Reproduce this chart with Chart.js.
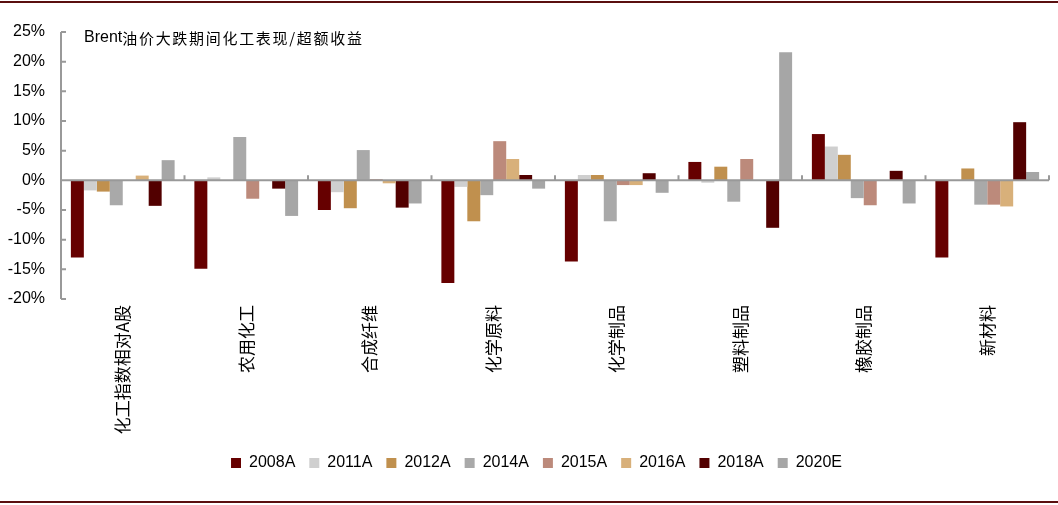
<!DOCTYPE html>
<html>
<head>
<meta charset="utf-8">
<script src="https://cdn.jsdelivr.net/npm/chart.js@4/dist/chart.umd.min.js"></script>
<style>
	body { margin: 0; background: #fff; }
	#wrap { position: relative; width: 1058px; height: 505px; }
	#wrap .rule { position: absolute; left: 0; width: 1058px; height: 2px; background: #5a0f0f; }
	canvas { position: absolute; left: 0; top: 0; }
</style>
</head>
<body>
<div id="wrap">
	<canvas id="chart" width="1058" height="505"></canvas>
	<div class="rule" style="top:1px"></div>
	<div class="rule" style="top:501px"></div>
</div>
<script>
// Brent油价大跌期间 化工各子行业超额收益 (%)
var categories = ["化工指数相对A股", "农用化工", "合成纤维", "化学原料", "化学制品", "塑料制品", "橡胶制品", "新材料"];
var seriesNames = ["2008A", "2011A", "2012A", "2014A", "2015A", "2016A", "2018A", "2020E"];
var seriesColors = ["#660000", "#cfcfcf", "#c0904e", "#a9a9a9", "#bc8a7b", "#d8b07a", "#520000", "#a6a6a6"];

var v2008A = [-13.0, -14.9, -5.0, -17.3, -13.7, 3.1, 7.8, -13.0];
var v2011A = [-1.7, 0.5, -2.0, -1.1, 0.9, -0.4, 5.7, 0];
var v2012A = [-1.9, 0, -4.7, -6.9, 0.9, 2.3, 4.3, 2.0];
var v2014A = [-4.2, 7.3, 5.1, -2.5, -6.9, -3.6, -3.0, -4.1];
var v2015A = [0, -3.1, 0.2, 6.6, -0.8, 3.6, -4.2, -4.1];
var v2016A = [0.8, 0, -0.5, 3.6, -0.8, 0, 0, -4.4];
var v2018A = [-4.3, -1.4, -4.6, 0.9, 1.2, -8.0, 1.6, 9.8];
var v2020E = [3.4, -6.0, -3.9, -1.4, -2.1, 21.6, -3.9, 1.4];

var yTicks = { min: -20, max: 25, step: 5 };
var titleLatin = "Brent";
var titleCjk = "油价大跌期间化工表现/超额收益";

var latin = "'Liberation Sans', Arial, 'Noto Sans CJK SC', sans-serif";
var cjk = "'Noto Sans CJK SC', sans-serif";
var axisGray = "#999999";

var seriesValues = [v2008A, v2011A, v2012A, v2014A, v2015A, v2016A, v2018A, v2020E];

// zero line, axis line and the little inward ticks, plus the title in the corner
var axisMarks = {
	id: "axisMarks",
	afterLayout: function(chart) {
		// legend sits a bit right of the canvas centre in the original
		chart.legend.left += 12;
		chart.legend.right += 12;
	},
	afterDatasetsDraw: function(chart) {
		var ctx = chart.ctx, ca = chart.chartArea;
		var xs = chart.scales.x, ys = chart.scales.y;
		var y0 = ys.getPixelForValue(0);
		ctx.save();
		ctx.strokeStyle = axisGray;
		ctx.lineWidth = 2;
		ctx.beginPath();
		ctx.moveTo(ca.left, ca.top);
		ctx.lineTo(ca.left, ca.bottom);
		ctx.moveTo(ca.left, y0);
		ctx.lineTo(ca.right, y0);
		ys.ticks.forEach(function(t) {
			var py = ys.getPixelForValue(t.value);
			ctx.moveTo(ca.left, py);
			ctx.lineTo(ca.left + 5, py);
		});
		for (var i = 1; i <= categories.length; i++) {
			var px = xs.getPixelForValue(i - 0.5);
			ctx.moveTo(px, y0);
			ctx.lineTo(px, y0 - 5);
		}
		ctx.stroke();

		ctx.fillStyle = "#000";
		ctx.textBaseline = "middle";
		ctx.textAlign = "left";
		var tx = ca.left + 23, ty = ca.top + 6;
		ctx.font = "16px " + latin;
		ctx.fillText(titleLatin, tx, ty);
		tx += ctx.measureText(titleLatin).width;
		ctx.font = "15px " + cjk;
		ctx.letterSpacing = "1.7px";
		ctx.fillText(titleCjk, tx, ty);
		ctx.letterSpacing = "0px";
		ctx.restore();
	}
};

var ctx = document.getElementById("chart").getContext("2d");
var chart = new Chart(ctx, {
	type: "bar",
	data: {
		labels: categories,
		datasets: seriesNames.map(function(n, i) {
			return {
				label: n,
				data: seriesValues[i],
				backgroundColor: seriesColors[i],
				borderWidth: 0,
				categoryPercentage: 0.84,
				barPercentage: 1.0
			};
		})
	},
	options: {
		responsive: false,
		animation: false,
		layout: { padding: { top: 32, right: 9, bottom: 24, left: 0 } },
		plugins: {
			legend: {
				position: "bottom",
				labels: {
					boxWidth: 10,
					boxHeight: 10,
					padding: 14,
					color: "#000",
					font: { size: 16, family: latin }
				}
			},
			tooltip: { enabled: false }
		},
		scales: {
			x: {
				grid: { display: false, drawTicks: false },
				border: { display: false },
				ticks: {
					autoSkip: false,
					minRotation: 90,
					maxRotation: 90,
					padding: 6,
					color: "#000",
					font: { size: 17, family: cjk }
				},
				afterFit: function(s) { s.height = 142; }
			},
			y: {
				min: yTicks.min,
				max: yTicks.max,
				grid: { display: false, drawTicks: false },
				border: { display: false },
				ticks: {
					stepSize: yTicks.step,
					padding: 16,
					color: "#000",
					font: { size: 16, family: latin },
					callback: function(v) { return v + "%"; }
				},
				afterFit: function(s) { s.width = 61; }
			}
		}
	},
	plugins: [axisMarks]
});
</script>
</body>
</html>
